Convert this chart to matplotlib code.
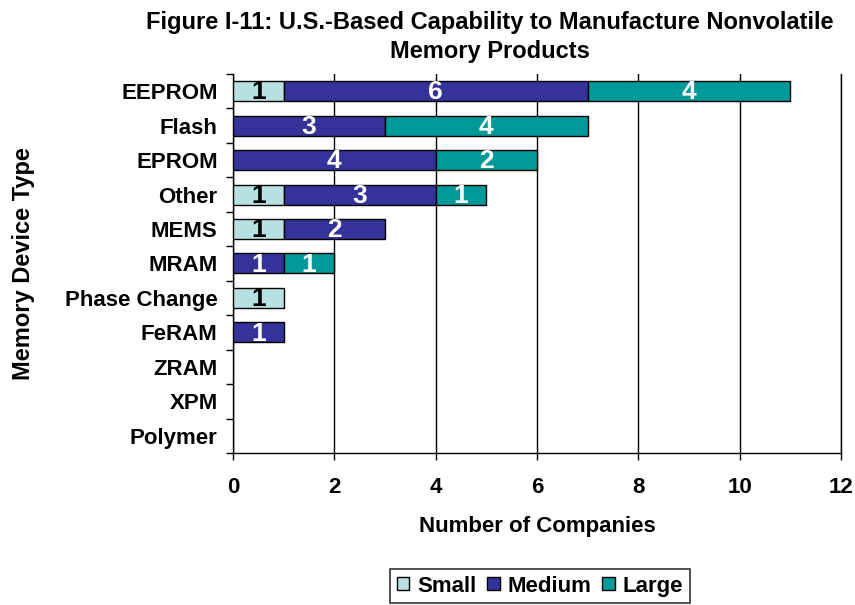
import matplotlib
matplotlib.use('Agg')
import matplotlib.pyplot as plt
import numpy as np

plt.rcParams['font.family'] = ['Liberation Sans', 'DejaVu Sans']
plt.rcParams['font.weight'] = 'bold'

# data
devices = ['EEPROM', 'Flash', 'EPROM', 'Other', 'MEMS', 'MRAM', 'Phase Change', 'FeRAM', 'ZRAM', 'XPM', 'Polymer']
small = [1, 0, 0, 1, 1, 0, 1, 0, 0, 0, 0]
medium = [6, 3, 4, 3, 2, 1, 0, 1, 0, 0, 0]
large = [4, 4, 2, 1, 0, 1, 0, 0, 0, 0, 0]
x_ticks = [0, 2, 4, 6, 8, 10, 12]

colors = {'Small': '#b7e0e3', 'Medium': '#333399', 'Large': '#009999'}
label_colors = {'Small': 'black', 'Medium': 'white', 'Large': 'white'}

fig = plt.figure(figsize=(8.55, 6.05), dpi=100)
ax = fig.add_axes([0.2725, 0.251, 0.711, 0.627])

y = np.arange(len(devices))
left = np.zeros(len(devices))
for name, vals in [('Small', small), ('Medium', medium), ('Large', large)]:
    vals = np.array(vals)
    nz = vals > 0  # skip empty segments so no stray edge lines are drawn
    ax.barh(y[nz], vals[nz], left=left[nz], height=0.58, color=colors[name], edgecolor='black',
            linewidth=1, label=name, zorder=3)
    for i, v in enumerate(vals):
        if v > 0:
            ax.text(left[i] + v / 2, y[i] + 0.04, str(v), ha='center', va='center', fontsize=19,
                    fontweight='bold', color=label_colors[name], zorder=4)
    left = left + vals

ax.set_ylim(len(devices) - 0.5, -0.5)
ax.set_xlim(0, 12)
ax.set_xticks(x_ticks)
ax.set_yticks(y)
ax.set_yticklabels(devices, fontsize=16, fontweight='bold')
ax.set_yticks(np.arange(-0.5, len(devices), 1), minor=True)
ax.tick_params(axis='y', which='major', length=0, pad=11)
ax.tick_params(axis='y', which='minor', length=5, width=1)
ax.tick_params(axis='x', labelsize=16, length=5, width=1, pad=12)
for lbl in ax.get_xticklabels():
    lbl.set_fontweight('bold')

ax.grid(axis='x', color='black', linewidth=1, zorder=0)
ax.axvline(12, color='black', linewidth=1, zorder=0, clip_on=False)
ax.spines['top'].set_visible(False)
ax.spines['right'].set_visible(False)
ax.spines['left'].set_linewidth(1)
ax.spines['bottom'].set_linewidth(1)

ax.set_xlabel('Number of Companies', fontsize=16, fontweight='bold')
ax.xaxis.set_label_coords(0.5, -0.165)
ax.set_ylabel('Memory Device Type', fontsize=17, fontweight='bold')
ax.yaxis.set_label_coords(-0.325, 0.5)

fig.text(0.573, 0.982, 'Figure I-11: U.S.-Based Capability to Manufacture Nonvolatile\nMemory Products',
         ha='center', va='top', fontsize=17, fontweight='bold', linespacing=1.35)

leg = ax.legend(loc='upper center', bbox_to_anchor=(0.505, -0.305), ncol=3, frameon=True,
                fancybox=False, edgecolor='black', fontsize=16, handlelength=0.55, handleheight=0.55,
                handletextpad=0.35, columnspacing=0.5, borderpad=0.3, borderaxespad=0)
leg.get_frame().set_linewidth(1.2)
for t in leg.get_texts():
    t.set_fontweight('bold')

fig.savefig('out.png', dpi=100)
